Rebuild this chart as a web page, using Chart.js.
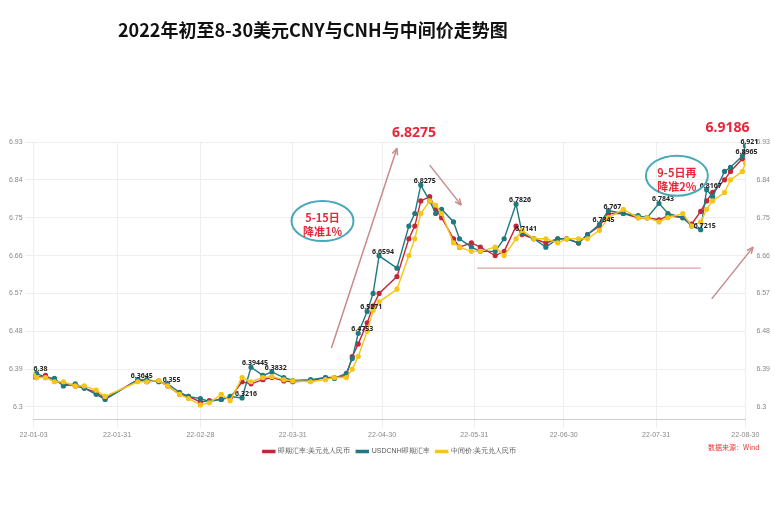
<!DOCTYPE html>
<html><head><meta charset="utf-8">
<script src="https://cdn.jsdelivr.net/npm/chart.js@4/dist/chart.umd.min.js"></script>
<style>body{margin:0;background:#fff;font-family:"Noto Sans CJK SC","Noto Sans",sans-serif}
#t{position:absolute;left:118px;top:16px;font-size:18px;font-weight:bold;color:#111}
#s{position:absolute;left:708px;top:442px;font-size:7px;color:#e33}
#w{position:absolute;left:0;top:0;width:775px;height:520px}</style></head>
<body><div id="w"><canvas id="c" width="775" height="520"></canvas></div>
<div id="t">2022年初至8-30美元CNY与CNH与中间价走势图</div>
<div id="s">数据来源：Wind</div>
<script>
const days=[0,1,4,7,10,14,17,21,24,35,38,42,45,49,52,56,59,63,66,70,73,77,80,84,87,93,98,101,105,107,109,112,114,116,122,126,128,130,133,135,137,141,143,147,150,155,158,162,164,168,172,176,179,183,186,190,193,198,203,206,210,213,218,221,224,226,228,232,234,238,239];
const cny=[6.372,6.37,6.375,6.362,6.355,6.350,6.345,6.335,6.32,6.365,6.360,6.362,6.350,6.330,6.325,6.312,6.315,6.318,6.322,6.360,6.355,6.365,6.370,6.362,6.360,6.362,6.370,6.370,6.375,6.42,6.45,6.50,6.54,6.57,6.61,6.70,6.73,6.79,6.80,6.77,6.75,6.70,6.68,6.69,6.68,6.66,6.67,6.73,6.71,6.70,6.69,6.70,6.70,6.69,6.71,6.73,6.76,6.76,6.75,6.75,6.745,6.755,6.75,6.735,6.765,6.79,6.81,6.84,6.86,6.89,6.905];
const cnh=[6.372,6.38,6.37,6.368,6.35,6.355,6.345,6.33,6.318,6.3645,6.365,6.36,6.355,6.335,6.325,6.32,6.313,6.318,6.325,6.3216,6.39445,6.375,6.3832,6.37,6.363,6.365,6.37,6.368,6.38,6.415,6.4753,6.5271,6.57,6.6594,6.63,6.73,6.76,6.8275,6.79,6.76,6.77,6.74,6.70,6.68,6.67,6.67,6.70,6.7826,6.7141,6.70,6.68,6.70,6.70,6.69,6.71,6.7345,6.767,6.76,6.755,6.75,6.7843,6.76,6.75,6.73,6.7215,6.8167,6.80,6.86,6.87,6.8965,6.921];
const mid=[6.3757,6.37,6.37,6.36,6.36,6.35,6.35,6.34,6.325,6.36,6.36,6.363,6.35,6.33,6.32,6.305,6.31,6.33,6.315,6.37,6.36,6.37,6.372,6.365,6.362,6.36,6.365,6.37,6.37,6.39,6.42,6.48,6.53,6.55,6.58,6.66,6.70,6.76,6.79,6.78,6.76,6.69,6.68,6.67,6.67,6.68,6.66,6.70,6.72,6.70,6.70,6.69,6.70,6.70,6.70,6.72,6.75,6.77,6.75,6.75,6.74,6.75,6.76,6.73,6.74,6.77,6.79,6.81,6.84,6.86,6.88];
const tickDays=[0,28,56,87,117,148,178,209,239];
const tickLabels=['22-01-03','22-01-31','22-02-28','22-03-31','22-04-30','22-05-31','22-06-30','22-07-31','22-08-30'];
const yTicks=[6.3,6.39,6.48,6.57,6.66,6.75,6.84,6.93];
const labelIdx=[1,9,12,19,20,22,30,31,33,37,47,48,55,56,60,64,65,69,70];
const seriesNames=['即期汇率:美元兑人民币','USDCNH即期汇率','中间价:美元兑人民币'];
const colors=['#c3263a','#1f7a80','#f5c518'];
const sets=[cny,cnh,mid].map((a,i)=>({label:seriesNames[i],data:a.map((v,j)=>({x:days[j],y:v})),borderColor:colors[i],backgroundColor:colors[i],borderWidth:1.4,pointRadius:1.9,tension:0}));
sets.reverse();
const anno={id:'anno',afterDatasetsDraw(ch){const c=ch.ctx,X=ch.scales.x,Y=ch.scales.y;const px=d=>X.getPixelForValue(d),py=v=>Y.getPixelForValue(v);
c.save();c.font='bold 7px "Noto Sans"';c.fillStyle='#222';c.textAlign='center';
labelIdx.forEach(i=>c.fillText(String(cnh[i]),px(days[i])+4,py(cnh[i])-4));
c.strokeStyle='#c98a8a';c.lineWidth=1.5;
function arrow(d1,v1,d2,v2){const x1=px(d1),y1=py(v1),x2=px(d2),y2=py(v2);c.beginPath();c.moveTo(x1,y1);c.lineTo(x2,y2);c.stroke();const a=Math.atan2(y2-y1,x2-x1);c.beginPath();c.moveTo(x2,y2);c.lineTo(x2-7*Math.cos(a-0.4),y2-7*Math.sin(a-0.4));c.moveTo(x2,y2);c.lineTo(x2-7*Math.cos(a+0.4),y2-7*Math.sin(a+0.4));c.stroke();}
arrow(100,6.44,122,6.915);arrow(133,6.875,143.6,6.78);arrow(227.7,6.557,241.6,6.68);
c.strokeStyle='#d9a0a0';c.lineWidth=1.2;c.beginPath();c.moveTo(px(149),py(6.63));c.lineTo(px(224),py(6.63));c.stroke();
c.strokeStyle='#4aa8b8';c.lineWidth=2;
[[97,6.742,'5-15日','降准1%'],[216,6.85,'9-5日再','降准2%']].forEach(e=>{c.beginPath();c.ellipse(px(e[0]),py(e[1]),31,20,0,0,Math.PI*2);c.stroke();c.fillStyle='#e8283a';c.font='bold 11px "Noto Sans CJK SC"';c.fillText(e[2],px(e[0]),py(e[1])-3);c.fillText(e[3],px(e[0]),py(e[1])+11);});
c.font='bold 14px "Noto Sans"';c.fillStyle='#e8283a';c.fillText('6.8275',px(127.7),py(6.952));c.fillText('6.9186',px(233),py(6.964));
c.restore();}};
const tickOpts={color:'#888',font:{size:7},callback:v=>String(+v.toFixed(2))};
new Chart(document.getElementById('c'),{type:'line',data:{datasets:sets},plugins:[anno],
options:{responsive:false,animation:false,layout:{padding:{top:142,left:6,right:2,bottom:55}},
plugins:{legend:{position:'bottom',reverse:true,labels:{boxWidth:12,boxHeight:2,font:{size:7},color:'#555',padding:6}},tooltip:{enabled:false}},
scales:{x:{type:'linear',min:0,max:239,afterBuildTicks:a=>{a.ticks=tickDays.map(v=>({value:v}))},ticks:{color:'#888',font:{size:7},maxRotation:0,callback:v=>tickLabels[tickDays.indexOf(v)]},grid:{color:'#eee'},border:{color:'#ccc'}},
y:{min:6.27,max:6.93,afterBuildTicks:a=>{a.ticks=yTicks.map(v=>({value:v}))},ticks:tickOpts,grid:{color:'#eee'},border:{display:false}},
y2:{position:'right',min:6.27,max:6.93,afterBuildTicks:a=>{a.ticks=yTicks.map(v=>({value:v}))},ticks:tickOpts,grid:{display:false},border:{display:false}}}}});
</script></body></html>
